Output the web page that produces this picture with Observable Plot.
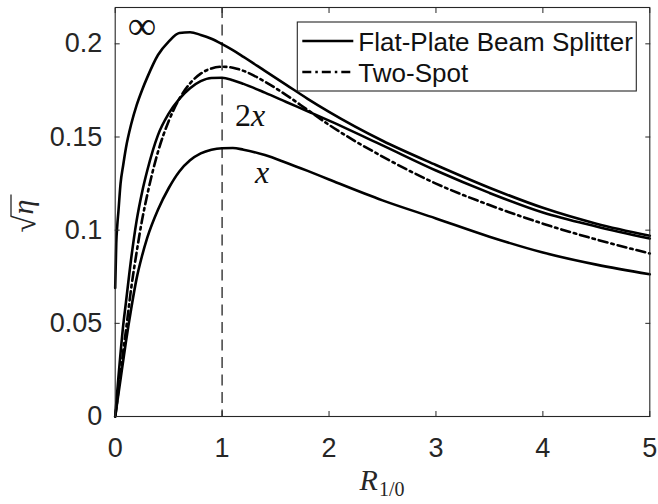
<!DOCTYPE html>
<html><head><meta charset="utf-8">
<script src="https://cdn.jsdelivr.net/npm/d3@7"></script>
<script src="https://cdn.jsdelivr.net/npm/@observablehq/plot@0.6"></script>
<style>html,body{margin:0;padding:0;background:#fff}</style>
</head><body><div id="chart"></div>
<script>
// ---- data ----
const xs = [0, 0.01, 0.02, 0.03, 0.05, 0.075, 0.1, 0.15, 0.2, 0.25, 0.3, 0.4, 0.5, 0.6, 0.7, 0.8, 0.9, 1.0, 1.1, 1.2, 1.4, 1.6, 1.8, 2.0, 2.5, 3.0, 3.5, 4.0, 4.5, 5.0];
const yInf = [0.069, 0.093, 0.103, 0.110, 0.125, 0.135, 0.144, 0.157, 0.167, 0.175, 0.182, 0.194, 0.2012, 0.2058, 0.2062, 0.2048, 0.2027, 0.1998, 0.1966, 0.1930, 0.1855, 0.1780, 0.1705, 0.1635, 0.1480, 0.1350, 0.1228, 0.1120, 0.1035, 0.0970];
const y2x = [0, 0.007, 0.014, 0.021, 0.034, 0.049, 0.061, 0.085, 0.105, 0.120, 0.132, 0.151, 0.1625, 0.1705, 0.1762, 0.1800, 0.1817, 0.1818, 0.1805, 0.1785, 0.1738, 0.1688, 0.1638, 0.1588, 0.1455, 0.1320, 0.1200, 0.1095, 0.1020, 0.0955];
const yX = [0, 0.004, 0.008, 0.012, 0.020, 0.030, 0.040, 0.058, 0.074, 0.086, 0.096, 0.111, 0.1225, 0.1315, 0.1375, 0.1412, 0.1432, 0.1440, 0.1441, 0.1432, 0.1403, 0.1362, 0.1318, 0.1272, 0.1160, 0.1063, 0.0965, 0.0880, 0.0815, 0.0763];
const yTwoSpot = [0, 0.004, 0.009, 0.014, 0.023, 0.035, 0.046, 0.069, 0.088, 0.105, 0.119, 0.142, 0.1585, 0.1705, 0.1788, 0.1840, 0.1868, 0.1877, 0.1872, 0.1855, 0.1797, 0.1725, 0.1645, 0.1565, 0.1395, 0.1250, 0.1135, 0.1035, 0.0950, 0.0875];
const legendLabels = ["Flat-Plate Beam Splitter", "Two-Spot"];
const xTicks = [0, 1, 2, 3, 4, 5];
const xTickLabels = ["0", "1", "2", "3", "4", "5"];
const yTicks = [0, 0.05, 0.1, 0.15, 0.2];
const yTickLabels = ["0", "0.05", "0.1", "0.15", "0.2"];
const refLine = [1];
const annoText = ["∞", "2x", "x"];
const annoX = [0.255, 1.266, 1.378];
const annoY = [0.2025, 0.1554, 0.1251];

// ---- tables ----
const solid = [
  ...xs.map((x, i) => ({x, y: yInf[i], s: "inf"})),
  ...xs.map((x, i) => ({x, y: y2x[i], s: "2x"})),
  ...xs.map((x, i) => ({x, y: yX[i], s: "x"}))
];
const twoSpot = xs.map((x, i) => ({x, y: yTwoSpot[i]}));
const annos = annoText.map((t, i) => ({t, x: annoX[i], y: annoY[i]}));

const ink = "#262626";
const DASHDOT = "9,4,2.5,4";
const SVGNS = "http://www.w3.org/2000/svg";
function el(name, attrs, parent) {
  const e = document.createElementNS(SVGNS, name);
  for (const k in attrs) e.setAttribute(k, attrs[k]);
  if (parent) parent.appendChild(e);
  return e;
}

function legendMark(index, scales, values, dims) {
  const g = el("g", {"text-anchor": "start"});
  const right = dims.width - dims.marginRight;
  const bx = right - 352, by = dims.marginTop + 15, bw = 339, bh = 69;
  el("rect", {x: bx, y: by, width: bw, height: bh, fill: "white", stroke: ink, "stroke-width": 1.1}, g);
  const rows = [{dash: null}, {dash: DASHDOT}];
  rows.forEach((r, i) => {
    const cy = by + 19 + i * 31;
    const ln = el("line", {x1: bx + 5, x2: bx + 56, y1: cy, y2: cy, stroke: "black", "stroke-width": 2.6}, g);
    if (r.dash) ln.setAttribute("stroke-dasharray", r.dash);
    const t = el("text", {x: bx + 61, y: cy + 10, "text-anchor": "start", "font-family": "Liberation Sans, Arial, sans-serif", "font-size": 26, fill: "#111"}, g);
    t.textContent = legendLabels[i];
  });
  return g;
}

function labelsMark(index, scales, values, dims) {
  const g = el("g", {});
  // x label R_{1/0}
  const cx = (dims.marginLeft + dims.width - dims.marginRight) / 2;
  const xl = el("text", {x: cx, y: dims.height - 14, "text-anchor": "middle", "font-family": "Liberation Serif, serif", "font-size": 30, fill: ink}, g);
  const r = el("tspan", {"font-style": "italic"}, xl); r.textContent = "R";
  const sub = el("tspan", {"font-size": 20, dy: 6, dx: 1}, xl); sub.textContent = "1/0";
  // y label sqrt(eta)
  const cy = (dims.marginTop + dims.height - dims.marginBottom) / 2;
  const yg = el("g", {transform: `translate(33,${cy}) rotate(-90)`, "text-anchor": "start"}, g);
  const rad = el("text", {x: -21, y: 2, "text-anchor": "start", "font-family": "Liberation Serif, serif", "font-size": 31, fill: ink}, yg);
  rad.textContent = "√";
  const eta = el("text", {x: -3, y: 0, "text-anchor": "start", "font-family": "Liberation Serif, serif", "font-style": "italic", "font-size": 30, fill: ink}, yg);
  eta.textContent = "η";
  el("line", {x1: -5, x2: 17, y1: -22, y2: -22, stroke: ink, "stroke-width": 1.3}, yg);
  // annotations
  annos.forEach(a => {
    const t = el("text", {x: scales.x(a.x), y: scales.y(a.y), "text-anchor": "middle", "font-family": "Liberation Serif, serif", "font-size": a.t === "∞" ? 40 : 32, fill: "#111"}, g);
    if (a.t === "2x") {
      const d = el("tspan", {}, t); d.textContent = "2";
      const v = el("tspan", {"font-style": "italic"}, t); v.textContent = "x";
    } else if (a.t === "x") {
      t.setAttribute("font-style", "italic"); t.textContent = "x";
    } else {
      t.textContent = a.t;
    }
  });
  return g;
}

const chart = Plot.plot({
  width: 658, height: 504,
  marginLeft: 114.7, marginRight: 8.7, marginTop: 7, marginBottom: 88,
  x: {domain: [0, 5]},
  y: {domain: [0, 0.2195]},
  style: {fontFamily: "Liberation Sans, Arial, sans-serif", color: ink, background: "white", overflow: "visible"},
  marks: [
    Plot.ruleX(refLine, {stroke: "#4d4d4d", strokeWidth: 1.6, strokeDasharray: "11,6.5"}),
    Plot.line(solid, {x: "x", y: "y", z: "s", stroke: "black", strokeWidth: 2.6, curve: "monotone-x"}),
    Plot.line(twoSpot, {x: "x", y: "y", stroke: "black", strokeWidth: 2.6, strokeDasharray: DASHDOT, curve: "monotone-x"}),
    Plot.frame({stroke: ink, strokeWidth: 1.1}),
    Plot.axisX({anchor: "bottom", ticks: xTicks, tickSize: 0, tickPadding: 21, fontSize: 27, tickFormat: d => xTickLabels[xTicks.indexOf(d)], label: null}),
    Plot.axisX({anchor: "bottom", ticks: xTicks, tickSize: 5, dy: -5, tickFormat: () => "", label: null, stroke: ink}),
    Plot.axisX({anchor: "top", ticks: xTicks, tickSize: 5, dy: 5, tickFormat: () => "", label: null, stroke: ink}),
    Plot.axisY({anchor: "left", ticks: yTicks, tickSize: 0, tickPadding: 13, fontSize: 27, tickFormat: d => yTickLabels[yTicks.indexOf(d)], label: null}),
    Plot.axisY({anchor: "left", ticks: yTicks, tickSize: 5, dx: 5, tickFormat: () => "", label: null, stroke: ink}),
    Plot.axisY({anchor: "right", ticks: yTicks, tickSize: 5, dx: -5, tickFormat: () => "", label: null, stroke: ink}),
    legendMark,
    labelsMark
  ]
});
document.getElementById("chart").appendChild(chart);
</script>
</body></html>
